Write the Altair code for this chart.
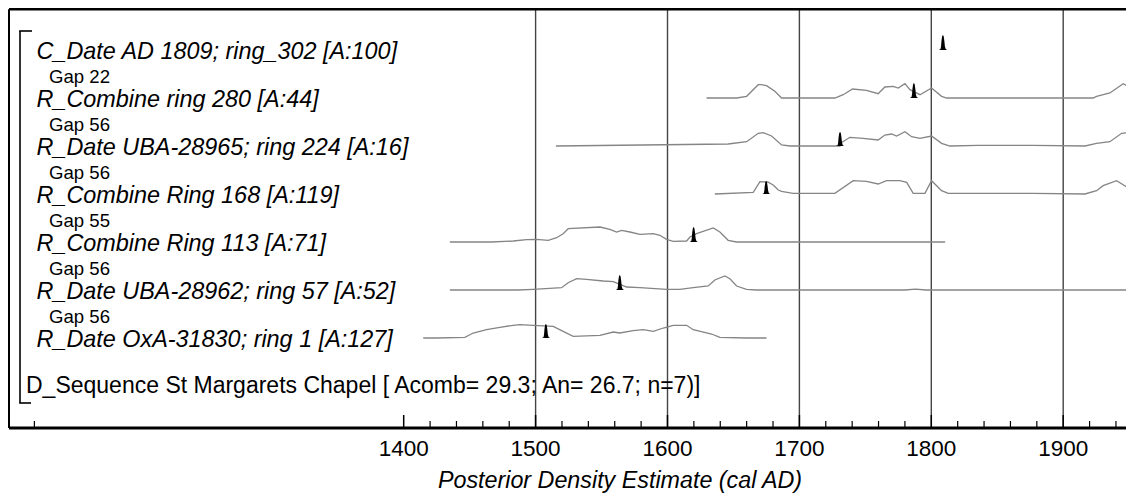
import altair as alt
import pandas as pd

# ---------------- data ----------------
row_labels = [
    "C_Date AD 1809; ring_302 [A:100]",
    "R_Combine ring 280 [A:44]",
    "R_Date UBA-28965; ring 224 [A:16]",
    "R_Combine Ring 168 [A:119]",
    "R_Combine Ring 113 [A:71]",
    "R_Date UBA-28962; ring 57 [A:52]",
    "R_Date OxA-31830; ring 1 [A:127]",
]
gap_labels = ["Gap 22", "Gap 56", "Gap 56", "Gap 55", "Gap 56", "Gap 56"]
sequence_label = "D_Sequence St Margarets Chapel [ Acomb= 29.3; An= 26.7; n=7)]"
axis_title = "Posterior Density Estimate (cal AD)"

# posterior spikes (black)
spike_year = [1809, 1787, 1731, 1675, 1620, 1564, 1508]
spike_height = [15, 15, 14, 13, 15, 15, 14]
spike_dx = [-3.2, -2.0, -1.6, -1.3, -0.8, -0.2, 0.4, 0.9, 1.3, 1.9, 3.0]
spike_f = [0.0, 0.06, 0.25, 0.6, 0.92, 1.0, 0.92, 0.6, 0.25, 0.06, 0.0]

# likelihood outlines (grey), row index -> (years, heights)
out1_yr = [1629.6, 1652.4, 1660.0, 1668.8, 1671.3, 1675.1, 1681.4, 1686.5, 1726.9, 1733.2,
           1740.3, 1750.9, 1759.7, 1764.8, 1771.1, 1774.9, 1780.0, 1783.8, 1791.4, 1800.2,
           1807.8, 1811.6, 1922.7, 1925.3, 1935.4, 1945.5, 1949.3, 1950.0]
out1_h = [0, 0, 1.7, 13.3, 13.3, 12.3, 6.7, 0, 0, 3.3,
          9, 7.7, 4.3, 11, 11.7, 10, 14.3, 8.3, 3.3, 10,
          1.7, 0, 0, 1.7, 5, 14.3, 11.7, 0]

out2_yr = [1515.4, 1646.0, 1660.0, 1668.8, 1672.6, 1678.9, 1686.5, 1692.8, 1730.7, 1731.5,
           1738.3, 1748.4, 1759.7, 1764.8, 1769.9, 1773.7, 1780.0, 1785.1, 1791.4, 1800.2,
           1807.8, 1814.1, 1835.6, 1877.3, 1916.5, 1925.3, 1935.4, 1944.3, 1949.3, 1950.0]
out2_h = [0, 2, 4.3, 12.7, 13.3, 10, 1, 0, 0, 3,
          8.7, 7.7, 6, 11, 12, 10, 14.3, 9.3, 7.7, 10,
          2.7, 0, 0.7, 0.7, 0, 2.7, 4.3, 12.7, 13.3, 0]

out3_yr = [1635.9, 1665.0, 1670.1, 1676.0, 1680.1, 1684.0, 1686.5, 1695.1, 1726.9, 1740.8,
           1750.9, 1759.7, 1766.1, 1776.2, 1781.3, 1786.3, 1795.2, 1800.2, 1807.8, 1812.8,
           1835.6, 1877.3, 1916.5, 1925.3, 1930.3, 1940.5, 1950.5]
out3_h = [0, 1.7, 12.3, 12, 9, 4, 2.7, 0.7, 0.7, 13.3,
          12.7, 10, 13.3, 13.3, 11.7, 0.7, 0.7, 13.3, 3.3, 0.7,
          0.7, 0.7, 0, 3.3, 8.3, 13.3, 5]

out4_yr = [1435.0, 1466.6, 1483.0, 1493.2, 1500.7, 1509.6, 1515.9, 1520.9, 1524.7, 1548.8,
           1556.3, 1561.4, 1565.2, 1571.5, 1579.1, 1589.2, 1594.2, 1599.3, 1604.3, 1614.5,
           1617.0, 1622.0, 1634.7, 1639.7, 1646.0, 1652.4, 1810.5]
out4_h = [0, 0, 1, 2.3, 2.7, 1.7, 4.3, 8.3, 13.3, 15,
          12.7, 10, 11.7, 10, 7.7, 8.3, 6.7, 2.7, 0.7, 1,
          5, 8.3, 14, 10, 1.7, 0, 0]

out5_yr = [1435.0, 1486.8, 1498.2, 1519.7, 1524.7, 1531.1, 1538.6, 1551.3, 1558.9, 1569.0,
           1579.1, 1599.3, 1609.4, 1619.5, 1630.9, 1635.9, 1643.5, 1647.3, 1652.4, 1659.9,
           1667.5, 1780.0, 1788.0, 1796.0, 1949.8]
out5_h = [0, 0, 0.7, 2.3, 7.3, 11.3, 10.7, 9, 8.3, 3,
          2.3, 0.7, 0.7, 2.3, 4, 10, 14, 11.3, 4, 0.7,
          0, 0, 0.8, 0, 0]

out6_yr = [1414.8, 1424.9, 1446.4, 1452.7, 1462.8, 1472.9, 1483.0, 1488.1, 1498.2, 1513.4,
           1520.9, 1528.5, 1548.8, 1558.9, 1563.9, 1574.0, 1581.6, 1589.2, 1596.8, 1604.3,
           1614.5, 1619.5, 1633.4, 1639.7, 1659.9, 1675.1]
out6_h = [0, 0, 0.7, 5, 8.3, 10.7, 12.7, 13.3, 12.7, 11.7,
          6.7, 1.7, 2.7, 6, 5, 7.3, 8.3, 6.7, 10, 12.7,
          12.7, 8.3, 4, 0.7, 0, 0]

outlines = {1: (out1_yr, out1_h), 2: (out2_yr, out2_h), 3: (out3_yr, out3_h),
            4: (out4_yr, out4_h), 5: (out5_yr, out5_h), 6: (out6_yr, out6_h)}

major_ticks = [1400, 1500, 1600, 1700, 1800, 1900]
minor_ticks = [1120, 1420, 1440, 1460, 1480, 1520, 1540, 1560, 1580, 1620, 1640, 1660, 1680,
               1720, 1740, 1760, 1780, 1820, 1840, 1860, 1880, 1920, 1940]
grid_years = [1500, 1600, 1700, 1800, 1900]

# ---------------- layout ----------------
W, H = 1118, 485
PX_PER_YR = 1.319
X0 = 1100.0
X_END = X0 + W / PX_PER_YR
ROW_PX = 48.0
Y_MAX = 6 + 42 / ROW_PX
Y_MIN = Y_MAX - H / ROW_PX


def v_page(py):
    return Y_MAX - (py - 8) / ROW_PX


def yr_page(px):
    return X0 + (px - 8) / PX_PER_YR


FONT = "Liberation Sans"
xs = alt.Scale(domain=[X0, X_END], nice=False, zero=False)
ys = alt.Scale(domain=[Y_MIN, Y_MAX], nice=False, zero=False)


def X(f):
    return alt.X(f, type="quantitative", scale=xs, axis=None)


def Y(f):
    return alt.Y(f, type="quantitative", scale=ys, axis=None)


V_TOP = v_page(9.2)
V_AXIS = v_page(428)
YR_LEFT = yr_page(9)

layers = []

# gridlines
grid_df = pd.DataFrame({"yr": grid_years, "a": V_TOP, "b": V_AXIS})
layers.append(alt.Chart(grid_df).mark_rule(color="#444444", strokeWidth=1.4).encode(
    x=X("yr"), y=Y("a"), y2="b"))

# outlines
orows = []
for i, (yy, hh) in outlines.items():
    for a, b in zip(yy, hh):
        orows.append({"yr": a, "v": (6 - i) + b / ROW_PX, "row": i})
out_df = pd.DataFrame(orows)
layers.append(alt.Chart(out_df).mark_line(color="#858585", strokeWidth=1.3, clip=True,
                                          interpolate="linear").encode(
    x=X("yr"), y=Y("v"), detail="row:N"))

# spikes
srows = []
for i, (c, h) in enumerate(zip(spike_year, spike_height)):
    for dx, f in zip(spike_dx, spike_f):
        srows.append({"yr": c + dx, "v": (6 - i) + f * h / ROW_PX, "base": 6 - i, "row": i})
sp_df = pd.DataFrame(srows)
layers.append(alt.Chart(sp_df).mark_area(color="black", clip=True).encode(
    x=X("yr"), y=Y("v"), y2="base", detail="row:N"))

# frame: top, left, axis line
frame_h = pd.DataFrame({"a": [YR_LEFT, YR_LEFT], "b": [X_END, X_END],
                        "v": [V_TOP, V_AXIS], "w": [2.7, 3.0]})
layers.append(alt.Chart(frame_h).mark_rule(color="black").encode(
    x=X("a"), x2="b", y=Y("v"), strokeWidth=alt.StrokeWidth("w:Q", scale=None)))
frame_v = pd.DataFrame({"x": [YR_LEFT], "a": [V_TOP], "b": [V_AXIS]})
layers.append(alt.Chart(frame_v).mark_rule(color="black", strokeWidth=2).encode(
    x=X("x"), y=Y("a"), y2="b"))

# ticks
maj_df = pd.DataFrame({"yr": major_ticks, "a": V_AXIS, "b": V_AXIS + 13 / ROW_PX})
layers.append(alt.Chart(maj_df).mark_rule(color="black", strokeWidth=1.5).encode(
    x=X("yr"), y=Y("a"), y2="b"))
min_df = pd.DataFrame({"yr": minor_ticks, "a": V_AXIS, "b": V_AXIS + 7 / ROW_PX})
layers.append(alt.Chart(min_df).mark_rule(color="black", strokeWidth=1.2).encode(
    x=X("yr"), y=Y("a"), y2="b"))

# tick labels
tl_df = pd.DataFrame({"yr": major_ticks, "v": v_page(456), "t": [str(t) for t in major_ticks]})
layers.append(alt.Chart(tl_df).mark_text(font=FONT, fontSize=22.5, align="center",
                                         baseline="alphabetic", color="black").encode(
    x=X("yr"), y=Y("v"), text="t:N"))

# axis title
at_df = pd.DataFrame({"yr": [yr_page(620)], "v": [v_page(488)], "t": [axis_title]})
layers.append(alt.Chart(at_df).mark_text(font=FONT, fontSize=23.3, fontStyle="italic",
                                         align="center", baseline="alphabetic",
                                         color="black").encode(
    x=X("yr"), y=Y("v"), text="t:N"))

# row labels
rl_df = pd.DataFrame({"yr": yr_page(36.5), "v": [(6 - i) - 8.5 / ROW_PX for i in range(7)],
                      "t": row_labels})
layers.append(alt.Chart(rl_df).mark_text(font=FONT, fontSize=23.4, fontStyle="italic",
                                         align="left", baseline="alphabetic",
                                         color="black").encode(
    x=X("yr"), y=Y("v"), text="t:N"))

# gap labels
gl_df = pd.DataFrame({"yr": yr_page(49), "v": [(6 - i) - 32.5 / ROW_PX for i in range(6)],
                      "t": gap_labels})
layers.append(alt.Chart(gl_df).mark_text(font=FONT, fontSize=18.6, align="left",
                                         baseline="alphabetic", color="black").encode(
    x=X("yr"), y=Y("v"), text="t:N"))

# sequence label
sq_df = pd.DataFrame({"yr": [yr_page(26)], "v": [v_page(392.5)], "t": [sequence_label]})
layers.append(alt.Chart(sq_df).mark_text(font=FONT, fontSize=23, align="left",
                                         baseline="alphabetic", color="black").encode(
    x=X("yr"), y=Y("v"), text="t:N"))

# bracket
br_v = pd.DataFrame({"x": [yr_page(20)], "a": [v_page(31)], "b": [v_page(403)]})
layers.append(alt.Chart(br_v).mark_rule(color="black", strokeWidth=1.6).encode(
    x=X("x"), y=Y("a"), y2="b"))
br_h = pd.DataFrame({"a": [yr_page(19.2), yr_page(19.2)], "b": [yr_page(32), yr_page(31)],
                     "v": [v_page(31), v_page(403)]})
layers.append(alt.Chart(br_h).mark_rule(color="black", strokeWidth=1.6).encode(
    x=X("a"), x2="b", y=Y("v")))

chart = alt.layer(*layers).properties(
    width=W, height=H, padding=0, autosize=alt.AutoSizeParams(type="none")
).configure_view(strokeWidth=0)

chart.save("out.html", embed_options={"renderer": "svg", "actions": False})
